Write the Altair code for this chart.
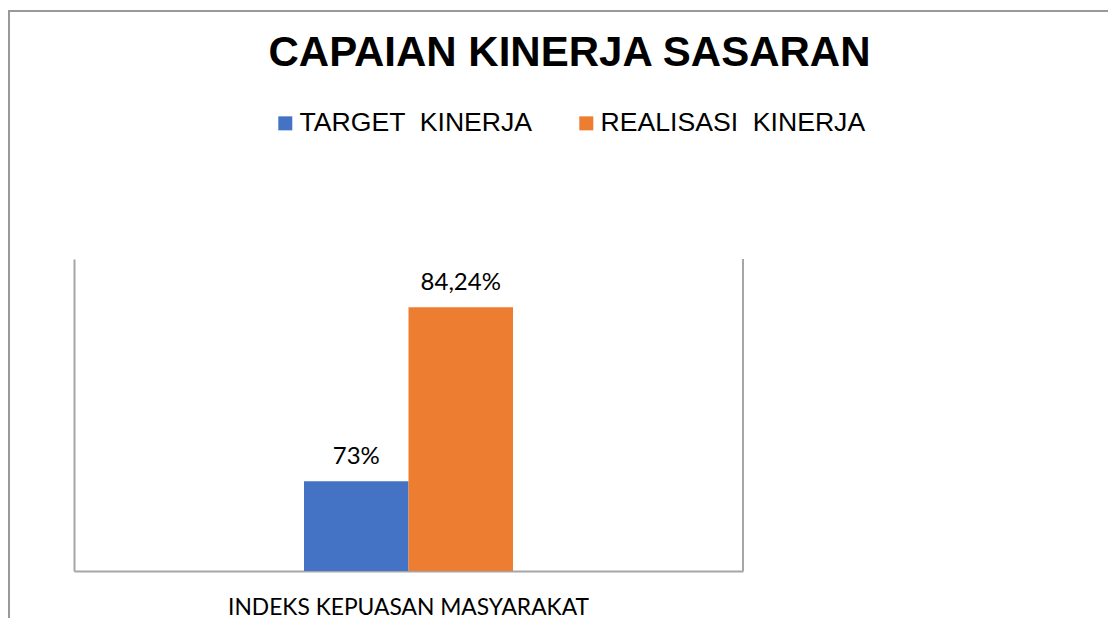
import altair as alt
import pandas as pd

# ---- data ----
categories = ["INDEKS KEPUASAN MASYARAKAT"]
series = ["TARGET \u00a0KINERJA", "REALISASI \u00a0KINERJA"]
values = [73.0, 84.24]
labels = ["73%", "84,24%"]
colors = ["#4472C4", "#ED7D31"]
title_text = "CAPAIAN KINERJA SASARAN"

df = pd.DataFrame({
    "cat": [categories[0]] * len(series),
    "series": series,
    "value": values,
    "label": labels,
})
one = pd.DataFrame({"a": [0]})

W, H = 669, 312
FRAME = "#a6a6a6"

x_enc = alt.X("cat:N", sort=categories,
              scale=alt.Scale(paddingInner=0.0913, paddingOuter=1),
              axis=alt.Axis(title=None, ticks=False, domain=True, domainColor=FRAME,
                            domainWidth=2, labelFont="Lato", labelFontSize=22.8,
                            labelColor="#000000", labelPadding=25, labelAngle=0,
                            labelLimit=800))
xo_enc = alt.XOffset("series:N", sort=series, scale=alt.Scale(paddingInner=0))
y_enc = alt.Y("value:Q", scale=alt.Scale(domain=[67.2, 87.35], zero=False, nice=False),
              axis=alt.Axis(title=None, labels=False, ticks=False, grid=False,
                            domainColor=FRAME, domainWidth=2))

base = alt.Chart(df)

bars = base.mark_bar(clip=True).encode(
    x=x_enc, xOffset=xo_enc, y=y_enc,
    color=alt.Color("series:N", sort=series,
                    scale=alt.Scale(domain=series, range=colors),
                    legend=alt.Legend(orient="none", legendX=198, legendY=-149,
                                      direction="horizontal", title=None,
                                      symbolType="square", symbolSize=196,
                                      symbolStrokeWidth=0, labelFont="Liberation Sans",
                                      labelFontSize=26.6, labelColor="#000000",
                                      labelOffset=1, columnPadding=40,
                                      labelLimit=500, padding=0)),
)

text = base.mark_text(dy=-17, baseline="alphabetic", font="Lato", fontSize=24,
                      color="#000000").encode(
    x=x_enc, xOffset=xo_enc, y=y_enc, text="label:N")

right_rule = alt.Chart(one).mark_rule(color=FRAME, strokeWidth=2).encode(
    x=alt.value(W), y=alt.value(0), y2=alt.value(H))

outer = alt.Chart(one).mark_rect(fill=None, stroke="#999999", strokeWidth=2).encode(
    x=alt.value(-65), x2=alt.value(W + 600), y=alt.value(-248), y2=alt.value(H + 300))

chart = alt.layer(outer, bars, text, right_rule).properties(
    width=W, height=H,
    background="white",
    autosize=alt.AutoSizeParams(type="none"),
    padding={"left": 66, "top": 251, "right": 365, "bottom": 47},
    title=alt.TitleParams(title_text, font="Liberation Sans", fontSize=42,
                          fontWeight="bold", color="#000000", anchor="middle",
                          dx=161, dy=98, baseline="alphabetic", offset=0),
).configure_view(stroke="transparent", strokeWidth=0)

chart.save("out.html", embed_options={"renderer": "svg", "actions": False})
